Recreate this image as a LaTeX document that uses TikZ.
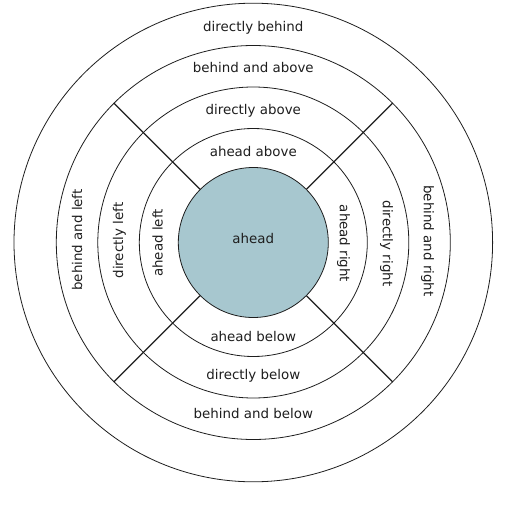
\documentclass[tikz,border=0pt]{standalone}
\usepackage{fontspec}
\setmainfont{DejaVu Sans}
\definecolor{fillblue}{RGB}{167,199,207}
\definecolor{ink}{RGB}{30,30,30}
\begin{document}
\begin{tikzpicture}[x=1pt,y=-1pt,
  ring/.style={circle,draw=ink,line width=0.8pt,inner sep=0pt,minimum size=#1},
  divider/.style={draw=ink,line width=1.2pt},
  lbl/.style={font=\fontsize{13.4}{15}\selectfont,text=ink,inner sep=0pt,text height=9.8pt,text depth=2.7pt}]
\useasboundingbox (0,0) rectangle (516,508);
\coordinate (o) at (253.3,242.5);
\node[ring=478.6pt] (r5) at (o) {};
\node[ring=394pt] (r4) at (o) {};
\node[ring=311pt] (r3) at (o) {};
\node[ring=228pt] (r2) at (o) {};
\node[ring=150pt,fill=fillblue] (r1) at (o) {};
\draw[divider] (r1.45) -- (r4.45);
\draw[divider] (r1.135) -- (r4.135);
\draw[divider] (r1.225) -- (r4.225);
\draw[divider] (r1.315) -- (r4.315);
% top / bottom labels
\node[lbl] (ldb) at (253.3,27.5) {directly behind};
\node[lbl] (lba) at (253.3,68.5) {behind and above};
\node[lbl] (lda) at (253.3,110.5) {directly above};
\node[lbl] (laa) at (253.3,152.5) {ahead above};
\node[lbl] (lah) at (253.3,240) {ahead};
\node[lbl] (lab) at (253.3,337.5) {ahead below};
\node[lbl] (ldbl) at (253.3,375.5) {directly below};
\node[lbl] (lbb) at (253.3,414.5) {behind and below};
% left labels
\node[lbl,rotate=90] (lbl1) at (78.5,240) {behind and left};
\node[lbl,rotate=90] (ldl) at (119.5,240.5) {directly left};
\node[lbl,rotate=90] (lal) at (159,243) {ahead left};
% right labels
\node[lbl,rotate=-90] (lar) at (343.5,243.5) {ahead right};
\node[lbl,rotate=-90] (ldr) at (386.5,243.5) {directly right};
\node[lbl,rotate=-90] (lbr) at (427.5,241) {behind and right};
\end{tikzpicture}
\end{document}
